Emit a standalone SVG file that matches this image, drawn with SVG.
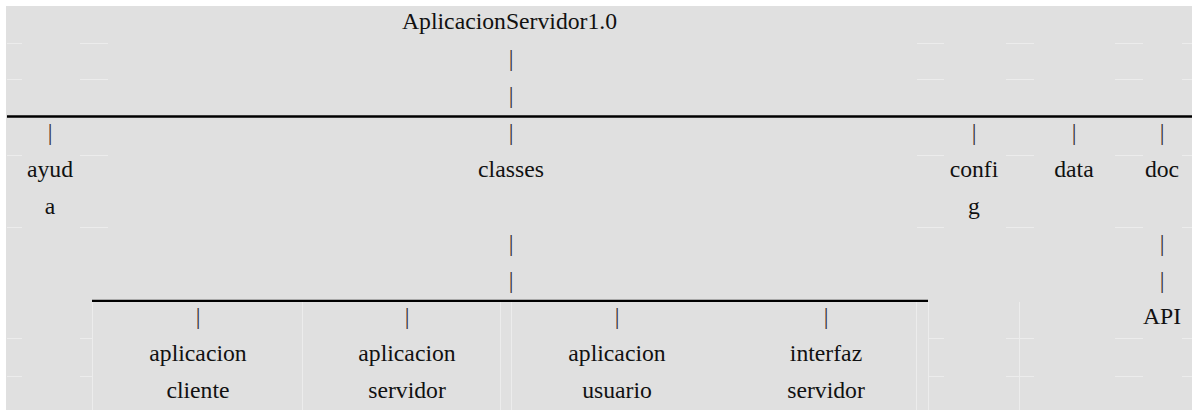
<svg xmlns="http://www.w3.org/2000/svg" width="1192" height="410" viewBox="0 0 1192 410">
  <style>
    .t { font-family: "Liberation Serif", "Times New Roman", serif; font-size: 23.7px; fill: #111; }
    .c { text-anchor: middle; }
    .bar { font-family: "Liberation Serif", "Times New Roman", serif; font-size: 23.7px; fill: #333; text-anchor: middle; }
    .rule { stroke: #000; stroke-width: 2.3; }
    .cell { stroke: #ececec; stroke-width: 1; fill: none; }
  </style>

  <!-- page background -->
  <rect x="0" y="0" width="1192" height="410" fill="#fff"/>
  <rect x="6" y="6" width="1186" height="404" fill="#e0e0e0"/>

  <!-- faint table cell borders -->
  <g id="cells" class="cell">
    <path d="M7 43.5H22M80 43.5H108M917 43.5H944M1006 43.5H1034M1115 43.5H1143M1182 43.5H1192"/>
    <path d="M7 79.5H22M80 79.5H108M917 79.5H944M1006 79.5H1034M1115 79.5H1143M1182 79.5H1192"/>
    <path d="M7 155.5H22M80 155.5H108M917 155.5H944M1006 155.5H1034M1115 155.5H1143M1182 155.5H1192"/>
    <path d="M7 227.5H22M80 227.5H108M917 227.5H944M1006 227.5H1034M1115 227.5H1143M1182 227.5H1192"/>
    <path d="M7 338.5H22M80 338.5H92M928 338.5H944M1006 338.5H1034M1115 338.5H1143M1182 338.5H1192"/>
    <path d="M7 376.5H22M80 376.5H92M928 376.5H944M1006 376.5H1034M1115 376.5H1143M1182 376.5H1192"/>
    <path d="M92.5 302V410M302.5 302V410M500.5 302V410M511.5 302V410M916.5 302V410M928.5 302V410M1019.5 302V410"/>
  </g>

  <!-- tree branches: pipes and horizontal rules -->
  <g id="connectors">
    <line class="rule" x1="7" y1="116.5" x2="1192" y2="116.5"/>
    <line class="rule" x1="92" y1="300.8" x2="928" y2="300.8"/>

    <!-- root down to first rule -->
    <text class="bar" x="511" y="66">|</text>
    <text class="bar" x="511" y="103">|</text>

    <!-- first level drops -->
    <text class="bar" x="50" y="140">|</text>
    <text class="bar" x="511" y="140">|</text>
    <text class="bar" x="974" y="140">|</text>
    <text class="bar" x="1074" y="140">|</text>
    <text class="bar" x="1162" y="140">|</text>

    <!-- classes down to second rule -->
    <text class="bar" x="511" y="251">|</text>
    <text class="bar" x="511" y="288">|</text>

    <!-- doc down to API -->
    <text class="bar" x="1162" y="251">|</text>
    <text class="bar" x="1162" y="288">|</text>

    <!-- second level drops -->
    <text class="bar" x="198" y="324">|</text>
    <text class="bar" x="407" y="324">|</text>
    <text class="bar" x="617" y="324">|</text>
    <text class="bar" x="826" y="324">|</text>
  </g>

  <g id="node-root"><text class="t" x="402" y="29">AplicacionServidor1.0</text></g>

  <g id="node-ayuda">
    <text class="t c" x="50" y="176.5">ayud</text>
    <text class="t c" x="50" y="213.5">a</text>
  </g>
  <g id="node-classes"><text class="t c" x="511" y="176.5">classes</text></g>
  <g id="node-config">
    <text class="t c" x="974" y="176.5">confi</text>
    <text class="t c" x="974" y="213.5">g</text>
  </g>
  <g id="node-data"><text class="t c" x="1074" y="176.5">data</text></g>
  <g id="node-doc"><text class="t c" x="1162" y="176.5">doc</text></g>
  <g id="node-api"><text class="t c" x="1162" y="323.5">API</text></g>

  <g id="node-cliente">
    <text class="t c" x="198" y="361">aplicacion</text>
    <text class="t c" x="198" y="398">cliente</text>
  </g>
  <g id="node-servidor">
    <text class="t c" x="407" y="361">aplicacion</text>
    <text class="t c" x="407" y="398">servidor</text>
  </g>
  <g id="node-usuario">
    <text class="t c" x="617" y="361">aplicacion</text>
    <text class="t c" x="617" y="398">usuario</text>
  </g>
  <g id="node-interfaz">
    <text class="t c" x="826" y="361">interfaz</text>
    <text class="t c" x="826" y="398">servidor</text>
  </g>
</svg>
